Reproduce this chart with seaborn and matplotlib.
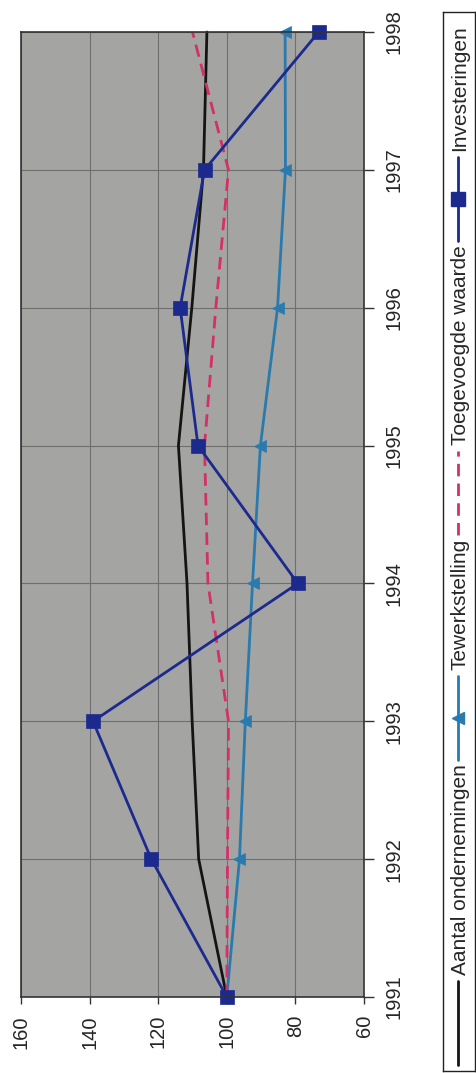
import matplotlib
matplotlib.use("Agg")
import matplotlib.pyplot as plt
import pandas as pd
import seaborn as sns

# index values per year (1991 = 100)
years = [1991, 1992, 1993, 1994, 1995, 1996, 1997, 1998]
aantal = [100, 108.2, 110.1, 111.6, 114.1, 110.2, 106.8, 105.8]
tewerk = [100, 96.3, 94.6, 92.5, 90.2, 85.2, 82.9, 83.0]
toegev = [100, 99.8, 99.5, 105.5, 106.5, 103.2, 99.5, 110.0]
invest = [100, 122.0, 139.0, 79.3, 108.4, 113.6, 106.5, 73.2]

names = ['Aantal ondernemingen', 'Tewerkstelling', 'Toegevoegde waarde', 'Investeringen']
value_ticks = [60, 80, 100, 120, 140, 160]

styles = {
    'Aantal ondernemingen': dict(color='#141414', marker=None, ls='-', ms=0),
    'Tewerkstelling': dict(color='#2a7aae', marker='<', ls='-', ms=9),
    'Toegevoegde waarde': dict(color='#d3306a', marker=None, ls=(0, (4.5, 2.6)), ms=0),
    'Investeringen': dict(color='#1c2a8e', marker='s', ls='-', ms=10),
}

df = pd.DataFrame({'Jaar': years, names[0]: aantal, names[1]: tewerk,
                   names[2]: toegev, names[3]: invest})
df1 = df.melt(id_vars=['Jaar'], var_name='Reeks', value_name='Index')

sns.set_style('white')
plt.rcParams['font.family'] = ['Liberation Sans', 'DejaVu Sans']

fig = plt.figure(figsize=(4.76, 10.73), dpi=100)
ax = fig.add_axes([21 / 476, 76 / 1073, 343 / 476, 965 / 1073])
ax.set_facecolor('#a4a5a2')

for name in names:
    st = styles[name]
    sns.lineplot(data=df1[df1['Reeks'] == name], x='Index', y='Jaar', orient='y',
                 ax=ax, color=st['color'], linestyle=st['ls'], lw=2,
                 marker=st['marker'], markersize=st['ms'],
                 markeredgecolor=st['color'], markeredgewidth=0.5,
                 estimator=None, legend=False, clip_on=False)

ax.set_xlim(160, 60)
ax.set_ylim(1991, 1998)
ax.set_xticks(value_ticks)
ax.set_yticks(years)
ax.yaxis.tick_right()
ax.set_xlabel('')
ax.set_ylabel('')
ax.grid(True, color='#6e6e6e', lw=0.8)
ax.set_axisbelow(True)
for sp in ax.spines.values():
    sp.set_color('#333333')
    sp.set_linewidth(1.2)

ax.tick_params(axis='x', bottom=True, direction='out', length=5, width=1,
               color='#333333', labelsize=14.5, labelrotation=90, pad=8)
ax.tick_params(axis='y', right=True, left=False, direction='out', length=7, width=1,
               color='#333333', labelsize=14.5, labelrotation=90, pad=8)
for lab in ax.get_yticklabels():
    lab.set_va('center')

# rotated legend, built by hand
lax = fig.add_axes([443 / 476, 2 / 1073, 32 / 476, 1059 / 1073])
fig.canvas.draw()
renderer = fig.canvas.get_renderer()
lbox = lax.get_window_extent(renderer)
lax.set_xlim(0, lbox.width)
lax.set_ylim(0, lbox.height)
lax.set_xticks([])
lax.set_yticks([])
lax.set_facecolor('white')
for sp in lax.spines.values():
    sp.set_color('#222222')
    sp.set_linewidth(1)

handle = 84
cursor = 6
for name in names:
    st = styles[name]
    lax.plot([15, 15], [cursor, cursor + handle], color=st['color'],
             linestyle=st['ls'], lw=2)
    if st['marker']:
        lax.plot([15], [cursor + handle / 2], marker=st['marker'], color=st['color'],
                 markersize=st['ms'], markeredgecolor=st['color'])
    cursor += handle + 6
    t = lax.text(17, cursor, name, rotation=90, ha='center', va='bottom', fontsize=15)
    cursor += t.get_window_extent(renderer).height + 4

fig.savefig('out.png', dpi=100)
